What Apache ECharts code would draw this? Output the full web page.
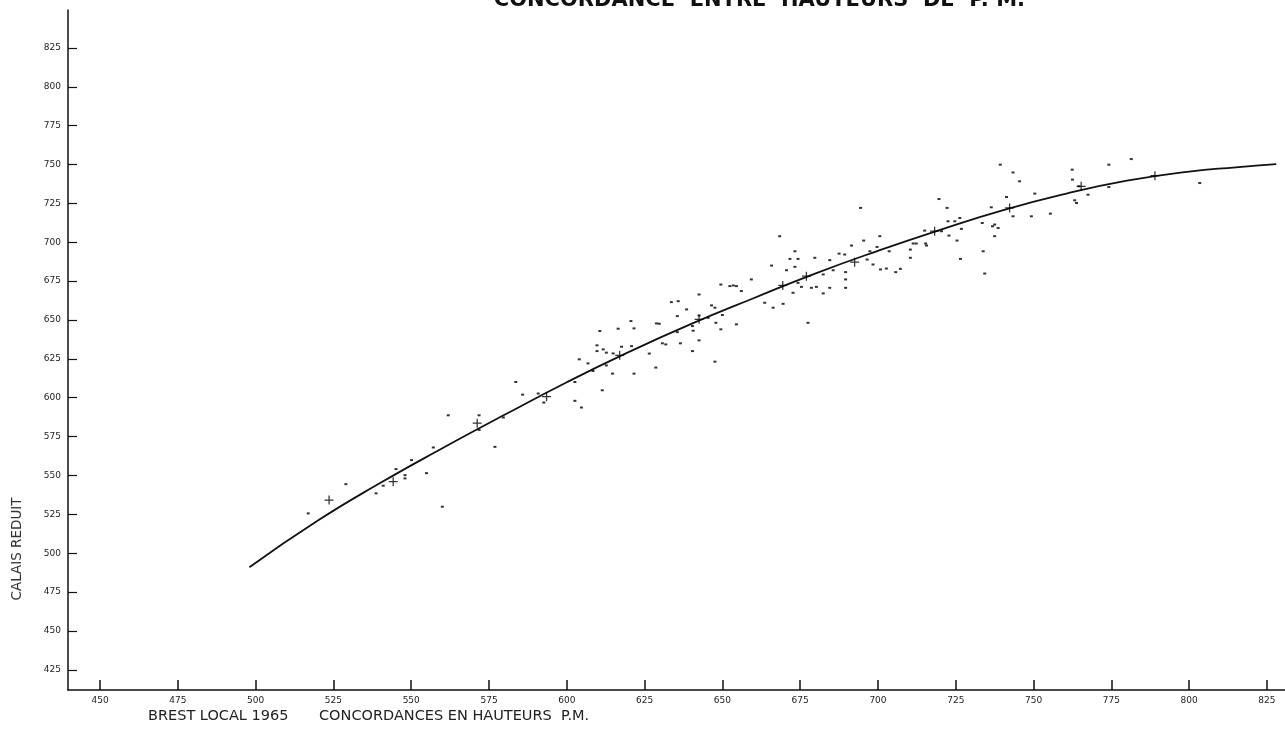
<!DOCTYPE html>
<html>
<head>
<meta charset="utf-8">
<script src="https://cdn.jsdelivr.net/npm/echarts@6/dist/echarts.min.js"></script>
<style>
html,body{margin:0;padding:0;background:#fff;}
#chart{width:1285px;height:735px;}
</style>
</head>
<body>
<div id="chart"></div>
<script>
// ---- data ----
const xTicks = [450,475,500,525,550,575,600,625,650,675,700,725,750,775,800,825];
const yTicks = [425,450,475,500,525,550,575,600,625,650,675,700,725,750,775,800,825];

// fitted concordance curve (Brest vs Calais reduit)
const curveX = [498,520,540,560,580,600,620,640,660,680,700,720,740,760,780,800,815,828];
const curveY = [491,521,545.1,567.5,589,610,629.5,647.5,664,680,694.5,708,720.5,731,739.6,745.5,748.2,750.2];

// "+" marks on the curve
const plusX = [523.6,544.2,571.2,593.5,617.0,642.5,669.4,677.0,692.5,718.2,742.3,765.3,789.0];
const plusY = [534.2,546.0,583.6,600.7,627.3,650.4,672.2,678.2,687.2,707.1,722.1,736.0,742.8];

// observed points
const obsX = [516.9,529.0,538.7,541.0,545.1,548.0,548.0,550.1,554.9,557.1,560.0,561.9,571.8,571.8,576.9,579.6,583.6,585.8,590.8,592.6,602.6,602.6,604.7,604.0,606.8,608.4,609.7,609.7,611.4,611.7,612.7,612.7,614.7,614.9,617.6,620.8,621.6,626.5,628.6,
610.6,616.5,620.6,621.6,
628.8,629.7,630.7,631.8,633.6,635.5,635.8,635.5,636.5,638.5,640.4,640.4,640.6,642.5,642.5,642.5,645.4,646.5,647.6,647.6,647.9,649.5,649.5,650.0,652.4,653.5,654.5,654.5,656.1,659.3,663.6,665.8,666.3,668.4,669.5,670.6,671.7,672.7,673.3,673.3,674.3,674.3,675.4,677.5,678.6,679.7,680.2,682.4,682.4,684.5,684.5,685.6,687.5,689.6,689.6,689.6,689.3,691.5,694.4,695.4,696.5,697.4,698.4,699.7,700.6,700.8,702.7,703.6,705.7,707.2,710.4,710.4,711.3,712.3,715.0,715.3,715.6,719.6,720.4,722.2,722.5,722.8,724.7,725.4,726.3,726.5,726.8,733.8,733.5,734.3,736.4,736.8,737.5,737.5,738.6,741.3,743.4,743.4,745.5,749.3,750.4,755.4,762.5,763.2,763.8,764.6,
739.3,762.4,774.2,774.2,767.5,781.4,803.4];
const obsY = [525.6,544.4,538.5,543.4,554.1,550.2,548.1,559.9,551.5,568.0,529.9,588.7,588.7,579.3,568.4,587.3,610.1,602.0,602.7,596.9,610.1,598.0,593.7,624.7,622.1,617.2,633.7,630.0,604.8,631.1,629.0,620.8,615.5,628.5,632.8,633.2,615.5,628.4,619.4,
642.9,644.4,649.3,644.6,
647.8,647.6,635.0,634.3,661.5,652.5,662.1,642.2,635.0,656.8,630.0,646.1,643.1,666.4,652.9,636.9,651.4,659.4,657.9,623.2,648.2,672.8,644.0,653.2,671.8,672.2,647.2,671.8,668.6,676.1,661.1,685.0,657.9,703.9,660.4,682.0,689.3,667.5,694.2,684.2,689.3,673.9,671.3,648.2,670.7,690.0,671.3,667.1,679.3,688.5,670.7,682.0,692.7,680.8,676.1,670.7,692.1,697.9,722.1,701.1,688.9,694.2,685.7,697.0,703.9,682.5,683.1,694.2,680.8,682.9,695.3,690.0,699.2,699.2,707.5,699.2,697.9,727.8,707.1,722.1,713.5,704.3,713.5,701.1,715.6,689.3,708.6,694.2,712.4,679.9,722.5,710.3,711.4,703.9,709.2,729.1,744.9,716.7,739.2,716.7,731.3,718.4,740.3,727.0,725.3,736.0,
749.9,746.7,749.9,735.5,730.6,753.5,738.1];

const titleText = 'CONCORDANCE  ENTRE  HAUTEURS  DE  P. M.';
const yName = 'CALAIS REDUIT';
const footLeft = 'BREST LOCAL 1965';
const footRight = 'CONCORDANCES EN HAUTEURS  P.M.';

// ---- chart ----
const chart = echarts.init(document.getElementById('chart'), null, {renderer:'canvas'});
const zip = (a,b) => a.map((v,i)=>[v,b[i]]);
const plusPath = 'path://M4.3,0H5.7V4.3H10V5.7H5.7V10H4.3V5.7H0V4.3H4.3Z';

chart.setOption({
  animation:false,
  backgroundColor:'#fff',
  grid:{left:68,right:0,top:10,bottom:45,containLabel:false},
  xAxis:{
    type:'value',min:439.7,max:830.8,
    axisLine:{show:true,onZero:false,lineStyle:{color:'#111',width:1.5}},
    axisTick:{show:true,inside:true,length:10,customValues:xTicks,lineStyle:{color:'#111',width:1.5}},
    axisLabel:{customValues:xTicks,fontSize:9,color:'#222',margin:6,fontFamily:'DejaVu Sans'},
    splitLine:{show:false}
  },
  yAxis:{
    type:'value',min:412,max:849.4,
    axisLine:{show:true,onZero:false,lineStyle:{color:'#111',width:1.5}},
    axisTick:{show:true,inside:true,length:9,customValues:yTicks,lineStyle:{color:'#111',width:1.2}},
    axisLabel:{customValues:yTicks,fontSize:9,color:'#222',margin:7,fontFamily:'DejaVu Sans'},
    splitLine:{show:false}
  },
  graphic:[
    {type:'text',x:1025,y:11,style:{text:titleText,fill:'#111',font:'bold 21px "DejaVu Sans"',align:'right',verticalAlign:'bottom'}},
    {type:'text',x:17,y:549,rotation:Math.PI/2,style:{text:yName,fill:'#333',font:'13.5px "DejaVu Sans"',align:'center',verticalAlign:'middle'}},
    {type:'text',x:148,y:716,style:{text:footLeft,fill:'#222',font:'14.5px "DejaVu Sans"',align:'left',verticalAlign:'middle'}},
    {type:'text',x:319,y:716,style:{text:footRight,fill:'#222',font:'14.5px "DejaVu Sans"',align:'left',verticalAlign:'middle'}}
  ],
  series:[
    {type:'scatter',data:zip(obsX,obsY),symbol:'rect',symbolSize:[3,2],itemStyle:{color:'#000'},silent:true,z:2},
    {type:'line',data:zip(curveX,curveY),smooth:0.5,showSymbol:false,lineStyle:{color:'#111',width:1.8},silent:true,z:3},
    {type:'scatter',data:zip(plusX,plusY),symbol:plusPath,symbolSize:9,itemStyle:{color:'#000'},silent:true,z:4}
  ]
});
</script>
</body>
</html>
